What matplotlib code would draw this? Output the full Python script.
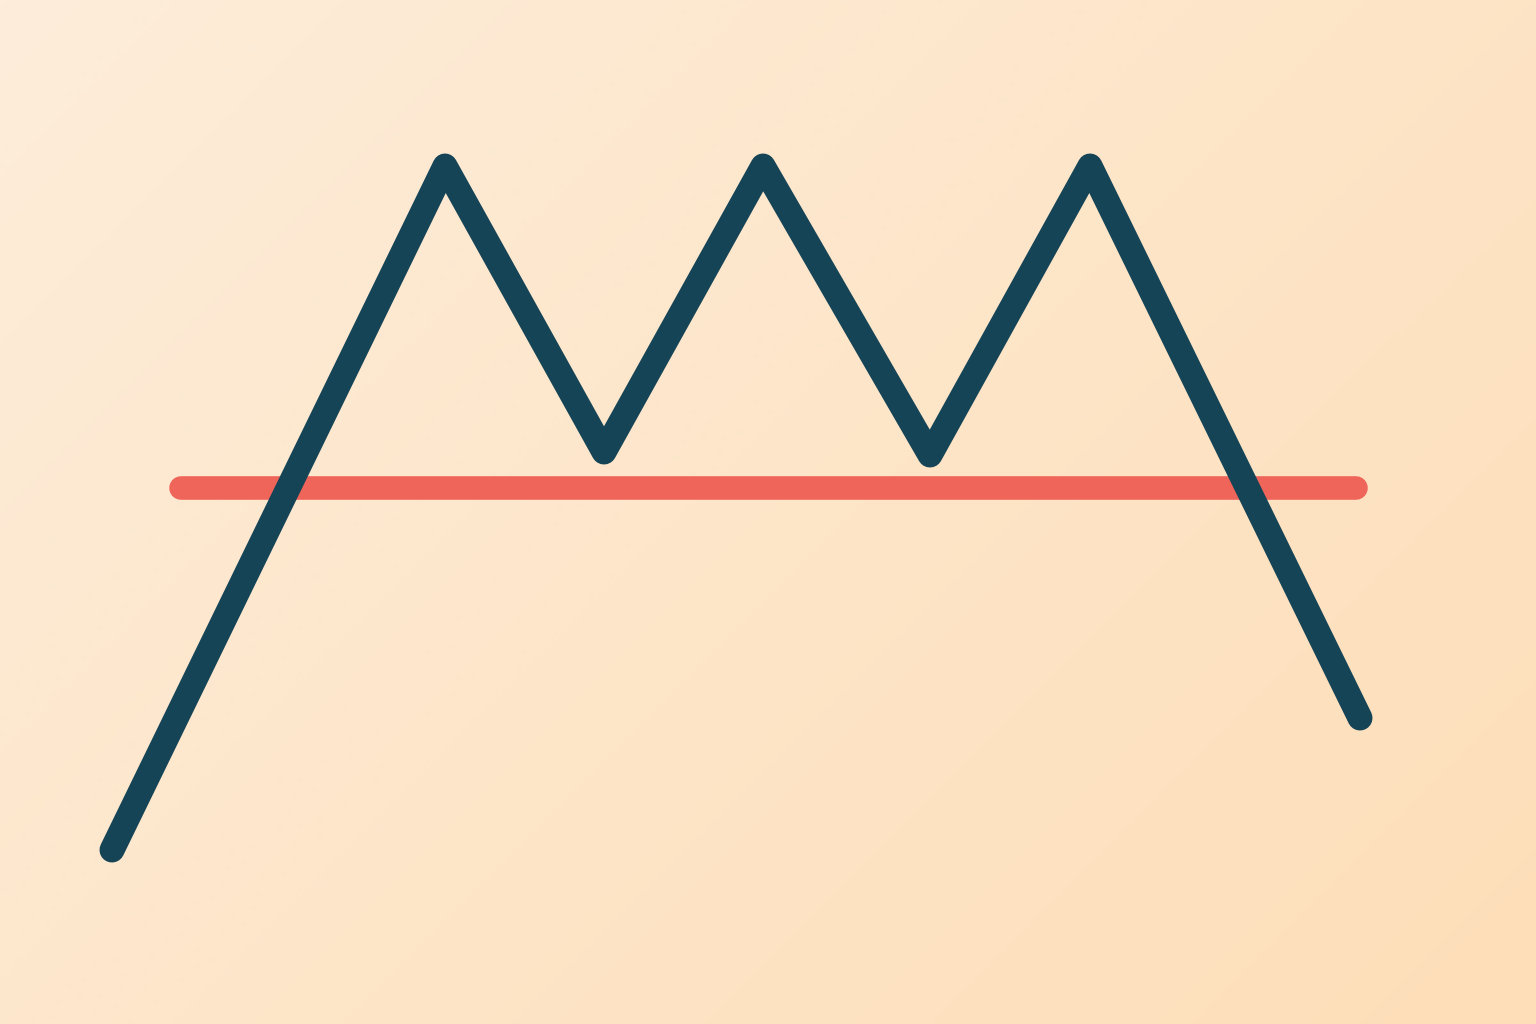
import numpy as np
import matplotlib
matplotlib.use("Agg")
import matplotlib.pyplot as plt

# Pattern data (x position, price level)
x_vals = [112, 445, 604, 763, 930, 1090, 1360]
y_vals = [174, 858, 572, 858, 569, 858, 306]
neckline_x = [181, 1356]
neckline_y = [536, 536]

fig = plt.figure(figsize=(15.36, 10.24), dpi=100)
ax = fig.add_axes([0, 0, 1, 1])
ax.set_xlim(0, 1536)
ax.set_ylim(0, 1024)
ax.axis("off")

# background gradient
c_tl = np.array([253, 237, 218]) / 255
c_br = np.array([253, 222, 184]) / 255
gx, gy = np.meshgrid(np.linspace(0, 1, 300), np.linspace(0, 1, 200))
t = (gx * 0.6 + gy * 0.4)
img = c_tl[None, None, :] * (1 - t[..., None]) + c_br[None, None, :] * t[..., None]
ax.imshow(img, extent=[0, 1536, 0, 1024], origin="upper", aspect="auto", zorder=0)

ax.plot(neckline_x, neckline_y, color="#F0655A", lw=17, solid_capstyle="round", zorder=2)
ax.plot(x_vals, y_vals, color="#154457", lw=18, solid_capstyle="round",
        solid_joinstyle="round", zorder=3)

fig.savefig("out.png", dpi=100)
